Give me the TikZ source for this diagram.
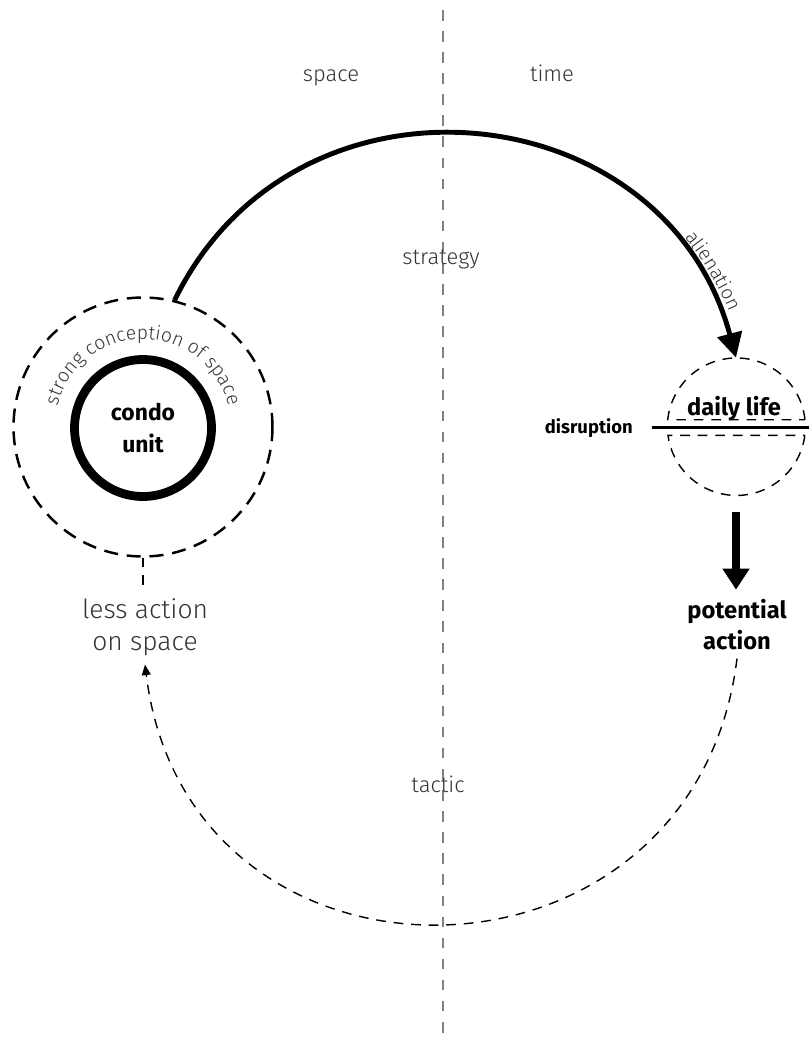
\documentclass[tikz,border=0pt]{standalone}
\usepackage{fontspec}
\setmainfont{Fira Sans}
\newfontfamily\lightfont{Fira Sans Light}
\usetikzlibrary{arrows.meta}
\usetikzlibrary{decorations.text}

\definecolor{axisgray}{HTML}{808080}
\definecolor{textgray}{HTML}{333333}

\begin{document}
\begin{tikzpicture}[x=0.02cm, y=0.02cm,
  ring/.style={circle, draw, line width=5pt, minimum size=2.74cm, inner sep=0pt},
  outerring/.style={circle, draw, line width=1.4pt, dash pattern=on 8pt off 5pt, minimum size=5.18cm, inner sep=0pt},
  thindash/.style={line width=0.8pt, dash pattern=on 5.5pt off 4.5pt},
  boldlabel/.style={font=\bfseries\fontsize{13.5}{17.6}\selectfont, align=center},
  lightlabel/.style={font=\lightfont\fontsize{15}{18}\selectfont, text=textgray, align=center},
  axislabel/.style={font=\lightfont\fontsize{12.5}{15}\selectfont, text=textgray, anchor=base},
  ]

  \useasboundingbox (0,0) rectangle (809,-1043);

  % space | time
  \coordinate (divtop) at (443,-10);
  \coordinate (divbot) at (443,-1043);
  \draw[axisgray, line width=1.1pt, dash pattern=on 6pt off 6pt] (divtop) -- (divbot);

  \node[axislabel] (space) at (331,-82) {space};
  \node[axislabel] (time) at (552,-82) {time};
  \node[axislabel] (strategy) at (441,-265) {strategy};
  \node[axislabel] (tactic) at (438,-792) {tactic};

  % condo unit
  \node[outerring] (conception) at (143,-427) {};
  \node[ring, boldlabel, font=\bfseries\fontsize{13}{18}\selectfont] (condo) at (143,-428) {condo\\unit};
  \path[decorate, decoration={text along path, text align=center, text color=textgray,
      text={|\lightfont\fontsize{11}{13}\selectfont|strong conception of space}}]
    ([shift={(143,-427)}]173:88) arc[start angle=173, end angle=7, radius=88];

  % daily life
  \node[circle, minimum size=2.76cm, inner sep=0pt] (daily) at (736,-427) {};
  \draw[thindash] (daily.6) arc[start angle=6, end angle=174, radius=69] -- cycle;
  \draw[thindash] (daily.-7.5) arc[start angle=-7.5, end angle=-172.5, radius=69] -- cycle;
  \node[boldlabel, anchor=base] (dailytext) at (734,-415) {daily life};

  \node[font=\bfseries\fontsize{10.5}{12}\selectfont, anchor=base east] (disruption) at (639,-433) {disruption};
  \coordinate (rightedge) at (809,-428);
  \draw[line width=1.7pt] ([xshift=0.26cm]disruption.east) -- (disruption.east -| rightedge);

  % alienation
  \draw[line width=2.8pt, -{Triangle[length=14pt, width=14pt]}] (conception.76) to[out=64, in=105, looseness=1.25] (daily.north);
  \path[decorate, decoration={text along path, text align=center, text color=textgray,
      text={|\lightfont\fontsize{11}{13}\selectfont|alienation}}]
    ([shift={(443,-433)}]46:311) arc[start angle=46, end angle=16, radius=311];

  \node[boldlabel, anchor=base, inner sep=5pt] (potential) at (737,-649) {potential\\action};
  \draw[line width=4.5pt, -{Triangle[length=12pt, width=14.7pt]}, shorten <=0.32cm] (daily.south) -- (daily.south |- potential.north);

  \node[lightlabel, anchor=base, inner sep=5pt] (lessaction) at (145,-650) {less action\\on space};
  \draw[thindash] (conception.south) -- (conception.south |- lessaction.north);

  % tactic loop
  \draw[thindash, -{Triangle[length=6pt, width=5pt]}] (potential.south) to[out=-97, in=-83, looseness=1.52] (lessaction.south);

\end{tikzpicture}
\end{document}
